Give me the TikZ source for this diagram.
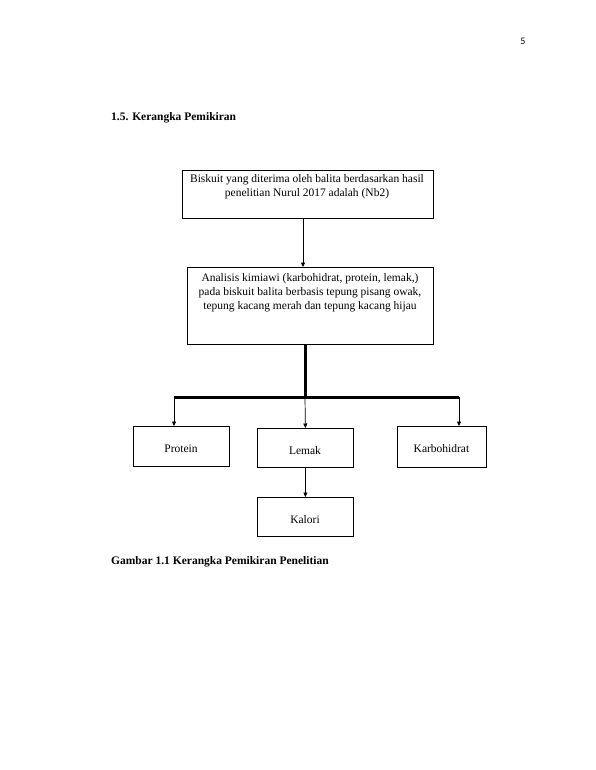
\documentclass[tikz,border=0pt]{standalone}
\usepackage{fontspec}
\setmainfont{Liberation Serif}
\newfontfamily\pagefont{Carlito}
\usetikzlibrary{arrows.meta}
\begin{document}
\begin{tikzpicture}[x=1pt,y=-1pt,
  box/.style={draw,line width=0.8pt,rectangle,inner sep=0pt,anchor=north west},
  txt/.style={align=center,inner sep=0pt,font=\fontsize{11.5}{14.2}\selectfont},
  arr/.style={line width=0.7pt,-{Triangle[length=4.5pt,width=4pt]}},
  bar/.style={line width=3pt}]
\useasboundingbox (0,0) rectangle (595,770);
\fill[white] (0,0) rectangle (595,770);
\node[anchor=center,inner sep=0pt,font=\pagefont\fontsize{10}{12}\selectfont] (pg) at (523,41) {5};
\node[anchor=west,inner sep=0pt,font=\bfseries\fontsize{11.5}{14}\selectfont] (head) at (111,118) {1.5. Kerangka Pemikiran};
% boxes
\node[box,minimum width=251pt,minimum height=48pt] (b1) at (182,170) {};
\node[txt] (t1) at (307,187) {Biskuit yang diterima oleh balita berdasarkan hasil\\penelitian Nurul 2017 adalah (Nb2)};
\node[box,minimum width=246pt,minimum height=77pt] (b2) at (187,267) {};
\node[txt] (t2) at (310,292.5) {Analisis kimiawi (karbohidrat, protein, lemak,)\\pada biskuit balita berbasis tepung pisang owak,\\tepung kacang merah dan tepung kacang hijau};
\node[box,minimum width=96pt,minimum height=40pt] (protein) at (133,426) {};
\node[txt] (tp) at (181,449) {Protein};
\node[box,minimum width=96pt,minimum height=39pt] (lemak) at (257,428) {};
\node[txt] (tl) at (305,451) {Lemak};
\node[box,minimum width=89pt,minimum height=41pt] (karbo) at (397,426) {};
\node[txt] (tk) at (441.5,449) {Karbohidrat};
\node[box,minimum width=96pt,minimum height=39pt] (kalori) at (257,497) {};
\node[txt] (tka) at (305,520) {Kalori};
% connectors
\draw[arr] (b1.south -| 303,0) -- (b2.north -| 303,0);
\coordinate (barL) at (174,397);
\coordinate (barM) at (305,397);
\coordinate (barR) at (459,397);
\draw[bar] (b2.south -| barM) -- (barM);
\draw[bar] (barL) -- (barR);
\draw[arr] (barL) -- (barL |- protein.north);
\draw[arr] (barM) -- (lemak.north);
\draw[arr] (barR) -- (barR |- karbo.north);
\draw[arr] (lemak.south) -- (kalori.north);
\node[anchor=west,inner sep=0pt,font=\bfseries\fontsize{11.5}{14}\selectfont] (cap) at (111,562) {Gambar 1.1 Kerangka Pemikiran Penelitian};
\end{tikzpicture}
\end{document}
